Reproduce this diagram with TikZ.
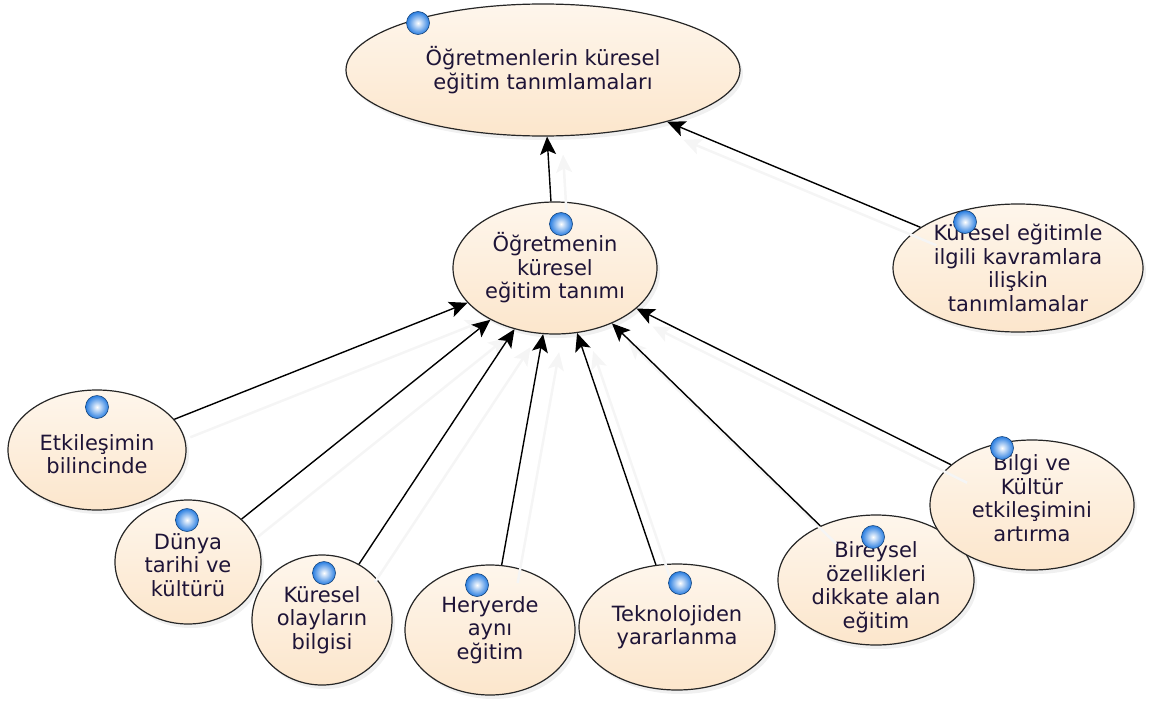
\documentclass[tikz,border=0pt]{standalone}
\usepackage{fontspec}
\setmainfont{DejaVu Sans}
\usetikzlibrary{shapes.geometric,arrows.meta,shadows}

\definecolor{kabuk}{RGB}{252,230,204}
\definecolor{kabukacik}{RGB}{254,246,236}
\definecolor{yazirengi}{RGB}{30,20,55}
\definecolor{boncuk}{RGB}{40,125,225}

\tikzset{
  balon/.style={ellipse, draw=black!85, line width=1.2pt, inner sep=0pt,
    top color=kabukacik, bottom color=kabuk,
    drop shadow={opacity=0.12, shadow xshift=3pt, shadow yshift=-4pt}},
  metin/.style={align=center, text=yazirengi, font=\fontsize{21}{23.5}\selectfont},
  boncukdugum/.style={circle, minimum size=23pt, inner sep=0pt, shading=radial,
    inner color=white, outer color=boncuk, draw=boncuk!55!black, line width=0.6pt},
  okcizgi/.style={-{Stealth[length=18pt,width=16pt,inset=4pt]}, line width=1.4pt,
    preaction={draw=black!4, line width=2.5pt,
      transform canvas={shift={(16pt,-18pt)}}}}
}

\begin{document}
\begin{tikzpicture}[x=1pt,y=-1pt]

    \useasboundingbox (0,0) rectangle (1155,704);

    \node[balon, minimum width=394pt, minimum height=132pt,
      label={[metin]center:{Öğretmenlerin küresel\\eğitim tanımlamaları}}] (ust) at (543,70) {};
    \node[balon, minimum width=204pt, minimum height=132pt,
      label={[metin]center:{Öğretmenin\\küresel\\eğitim tanımı}}] (ogr) at (555,268) {};
    \node[balon, minimum width=250pt, minimum height=128pt,
      label={[metin]center:{Küresel eğitimle\\ilgili kavramlara\\ilişkin\\tanımlamalar}}] (kav) at (1018,268) {};
    \node[balon, minimum width=178pt, minimum height=120pt,
      label={[metin, yshift=-4pt]center:{Etkileşimin\\bilincinde}}] (etk) at (97,450) {};
    \node[balon, minimum width=146pt, minimum height=124pt,
      label={[metin, yshift=-3pt]center:{Dünya\\tarihi ve\\kültürü}}] (dun) at (188,562) {};
    \node[balon, minimum width=140pt, minimum height=130pt,
      label={[metin]center:{Küresel\\olayların\\bilgisi}}] (olay) at (322,620) {};
    \node[balon, minimum width=170pt, minimum height=130pt,
      label={[metin]center:{Heryerde\\aynı\\eğitim}}] (her) at (490,630) {};
    \node[balon, minimum width=196pt, minimum height=126pt,
      label={[metin]center:{Teknolojiden\\yararlanma}}] (tek) at (677,627) {};
    \node[balon, minimum width=196pt, minimum height=130pt,
      label={[metin, yshift=-7pt]center:{Bireysel\\özellikleri\\dikkate alan\\eğitim}}] (bir) at (876,580) {};
    \node[balon, minimum width=204pt, minimum height=130pt,
      label={[metin, yshift=7pt]center:{Bilgi ve\\Kültür\\etkileşimini\\artırma}}] (bil) at (1032,505) {};

    \draw[okcizgi] (ogr) -- (ust);
    \draw[okcizgi] (kav) -- (ust);
    \draw[okcizgi] (etk) -- (ogr);
    \draw[okcizgi] (dun) -- (ogr);
    \draw[okcizgi] (olay) -- (ogr);
    \draw[okcizgi] (her) -- (ogr);
    \draw[okcizgi] (tek) -- (ogr);
    \draw[okcizgi] (bir) -- (ogr);
    \draw[okcizgi] (bil) -- (ogr);

    % boncuklar
    \node[boncukdugum] (b1) at (418,23) {};
    \node[boncukdugum] (b2) at (561,224) {};
    \node[boncukdugum] (b3) at (965,222) {};
    \node[boncukdugum] (b4) at (97,407) {};
    \node[boncukdugum] (b5) at (187,520) {};
    \node[boncukdugum] (b6) at (324,573) {};
    \node[boncukdugum] (b7) at (477,585) {};
    \node[boncukdugum] (b8) at (680,583) {};
    \node[boncukdugum] (b9) at (873,537) {};
    \node[boncukdugum] (b10) at (1002,448) {};

\end{tikzpicture}
\end{document}
